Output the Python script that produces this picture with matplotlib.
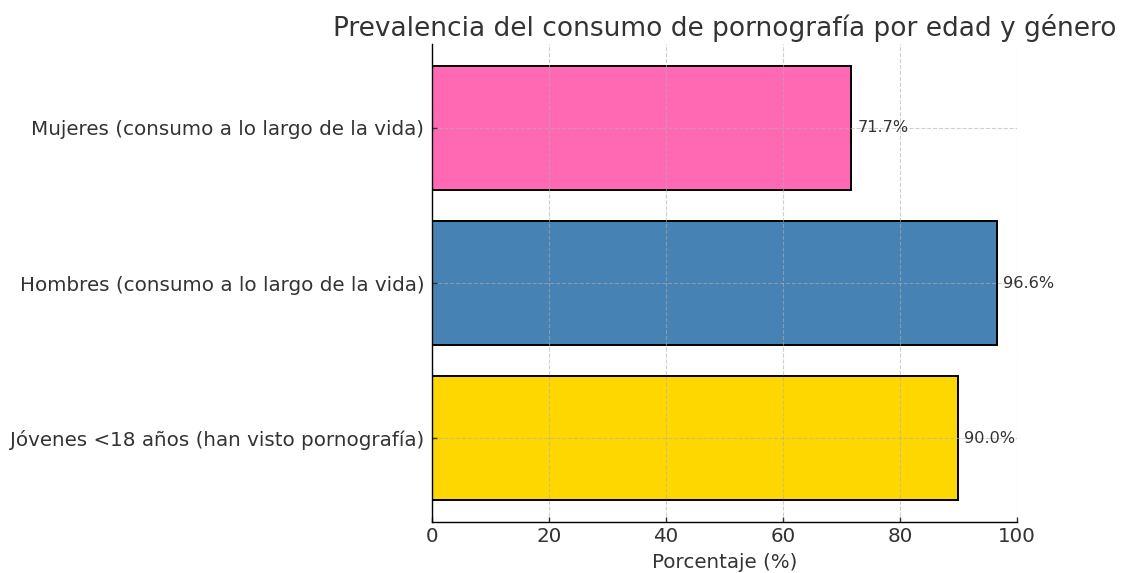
import matplotlib.pyplot as plt

# datos
categorias = ["Jóvenes <18 años (han visto pornografía)",
              "Hombres (consumo a lo largo de la vida)",
              "Mujeres (consumo a lo largo de la vida)"]
porcentajes = [90.0, 96.6, 71.7]
colores = ["#FFD700", "#4682B4", "#FF69B4"]

plt.rcParams['font.family'] = ['DejaVu Sans']
plt.rcParams['text.color'] = '#333333'
plt.rcParams['xtick.color'] = '#333333'
plt.rcParams['ytick.color'] = '#333333'
plt.rcParams['axes.labelcolor'] = '#333333'

fig = plt.figure(figsize=(11.21, 5.73), dpi=100)
ax = fig.add_axes([0.3854, 0.089, 0.5218, 0.834])

bars = ax.barh(categorias, porcentajes, color=colores, edgecolor="black", linewidth=1.4)

for b, v in zip(bars, porcentajes):
    ax.text(b.get_width() + 1, b.get_y() + b.get_height() / 2, f"{v:.1f}%",
            va="center", ha="left", fontsize=11.6, color="#333333")

ax.set_xlim(0, 100)
ax.set_xlabel("Porcentaje (%)", fontsize=14.3, labelpad=5)
ax.set_title("Prevalencia del consumo de pornografía por edad y género", fontsize=19, color="#333333", pad=6)
ax.tick_params(axis="both", labelsize=14.3, width=1.0, length=3.5, direction="in")
ax.tick_params(axis="y", pad=5.5)
ax.tick_params(axis="x", pad=3.5)
ax.grid(True, linestyle="--", alpha=0.6)
ax.spines["top"].set_visible(False)
ax.spines["right"].set_visible(False)
ax.spines["left"].set_linewidth(1.0)
ax.spines["bottom"].set_linewidth(1.0)

fig.savefig("out.png", dpi=100)
